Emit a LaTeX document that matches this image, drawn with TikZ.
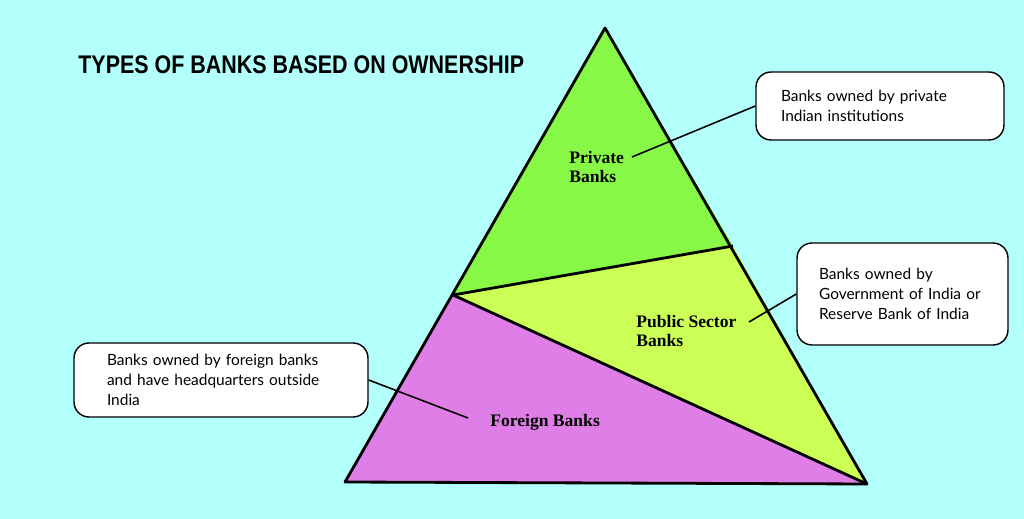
\documentclass[tikz,border=0pt]{standalone}
\usepackage{fontspec}
\setmainfont{Liberation Serif}
\newfontfamily\boxfont{Lato}
\newfontfamily\titlefont{Liberation Sans}
\usepackage{xcolor}
\usepackage{tikz}
\definecolor{BKSky}{HTML}{B3FFFC}
\definecolor{BKPrivate}{HTML}{88F846}
\definecolor{BKPublic}{HTML}{CCFF55}
\definecolor{BKForeign}{HTML}{E07EE8}

\tikzset{
  bandlbl/.style={anchor=west,align=left,inner sep=0pt,font=\bfseries\fontsize{10}{11.3}\selectfont},
  infobox/.style={draw=black,fill=white,line width=0.8pt,rounded corners=0.3cm,align=left,inner ysep=0pt,font=\boxfont\fontsize{8.8}{11.3}\selectfont},
  linkline/.style={line width=0.9pt},
}

\begin{document}
\begin{tikzpicture}[x=0.02cm,y=-0.02cm]
\path[use as bounding box] (0,0) rectangle (1024,519);
\fill[BKSky] (0,0) rectangle (1024,519);
% pyramid corners
\coordinate (apex) at (605,28);
\coordinate (lft) at (345,482);
\coordinate (rgt) at (867,484);
\coordinate (midl) at (453,295);
\coordinate (midr) at (733,246);
\fill[BKPrivate] (apex) -- (midr) -- (midl) -- cycle;
\fill[BKPublic] (midl) -- (midr) -- (rgt) -- cycle;
\fill[BKForeign] (midl) -- (rgt) -- (lft) -- cycle;
\draw[line width=1.6pt,line join=round] (apex) -- (rgt) -- (lft) -- cycle;
\draw[line width=1.6pt] (midl) -- (midr);
\draw[line width=1.6pt] (midl) -- (rgt);
% title
\node[anchor=west,inner sep=0pt] (title) at (78,65) {\scalebox{0.842}[1]{\titlefont\bfseries\fontsize{14.5}{17}\selectfont TYPES OF BANKS BASED ON OWNERSHIP}};
% band labels
\node[bandlbl] (privlbl) at (569,167) {Private\\Banks};
\node[bandlbl] (publbl) at (636,331) {Public Sector\\Banks};
\node[bandlbl] (forlbl) at (490,422) {Foreign Banks};
% callouts
\node[infobox,text width=3.96cm,minimum height=1.36cm,inner xsep=0.5cm] (privbox) at (880,106) {Banks owned by private\\Indian institutions};
\node[infobox,text width=3.34cm,minimum height=2.04cm,inner xsep=0.44cm] (pubbox) at (902.5,294) {Banks owned by\\Government of India or\\Reserve Bank of India};
\node[infobox,text width=4.56cm,minimum height=1.48cm,inner xsep=0.66cm] (forbox) at (221,380) {Banks owned by foreign banks\\and have headquarters outside\\India};
% connectors
\coordinate (privend) at (632,157);
\coordinate (pubend) at (749,322);
\coordinate (forend) at (468,418);
\draw[linkline] (privend) -- (privbox.west);
\draw[linkline] (pubend) -- (pubbox.west);
\draw[linkline] (forbox.east) -- (forend);
\end{tikzpicture}
\end{document}
